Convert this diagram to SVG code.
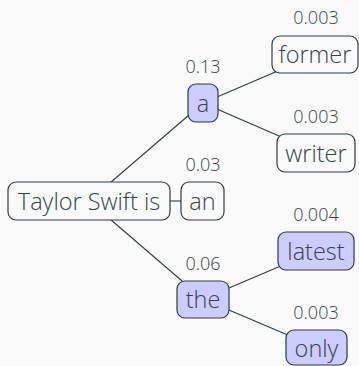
<svg xmlns="http://www.w3.org/2000/svg" width="359" height="366" viewBox="0 0 359 366">
<style>
.bg{fill:#fafafa}
.n{fill:#fafafa;stroke:#2f3b40;stroke-width:1.2}
.h{fill:#ccccff;stroke:#2f3b40;stroke-width:1.2}
.t{font-family:"Open Sans",sans-serif;font-weight:300;font-size:23.5px;fill:#36444a;text-anchor:middle}
.p{font-family:"Open Sans",sans-serif;font-weight:300;font-size:18px;fill:#36444a;text-anchor:middle}
.e{stroke:#2f3b40;stroke-width:1.1;fill:none}
</style>
<rect class="bg" x="0" y="0" width="359" height="366"/>
<g id="edges">
<line class="e" x1="89" y1="201" x2="203" y2="103"/>
<line class="e" x1="170" y1="201" x2="181" y2="201"/>
<line class="e" x1="89" y1="201" x2="203" y2="299"/>
<line class="e" x1="203" y1="103" x2="315" y2="55"/>
<line class="e" x1="203" y1="103" x2="316" y2="152"/>
<line class="e" x1="203" y1="299" x2="316" y2="251"/>
<line class="e" x1="203" y1="299" x2="316" y2="347"/>
</g>
<g id="root">
<rect class="n" x="8" y="182" width="162" height="38" rx="8"/>
<text class="t" x="89" y="210">Taylor Swift is</text>
</g>
<g id="a">
<rect class="h" x="188" y="84" width="30" height="38" rx="8"/>
<text class="t" x="203" y="112">a</text>
<text class="p" x="203" y="73">0.13</text>
</g>
<g id="an">
<rect class="n" x="181" y="182" width="43" height="38" rx="8"/>
<text class="t" x="202.5" y="210">an</text>
<text class="p" x="203" y="171">0.03</text>
</g>
<g id="the">
<rect class="h" x="177" y="281" width="52" height="37" rx="8"/>
<text class="t" x="203" y="308">the</text>
<text class="p" x="203" y="270">0.06</text>
</g>
<g id="former">
<rect class="n" x="272" y="36" width="86" height="37" rx="8"/>
<text class="t" x="315" y="63">former</text>
<text class="p" x="316" y="24">0.003</text>
</g>
<g id="writer">
<rect class="n" x="277" y="134" width="78" height="38" rx="8"/>
<text class="t" x="316" y="162">writer</text>
<text class="p" x="316" y="123">0.003</text>
</g>
<g id="latest">
<rect class="h" x="278" y="232" width="76" height="38" rx="8"/>
<text class="t" x="316" y="260">latest</text>
<text class="p" x="316" y="221">0.004</text>
</g>
<g id="only">
<rect class="h" x="286" y="330" width="61" height="35" rx="8"/>
<text class="t" x="316.5" y="357">only</text>
<text class="p" x="316" y="319">0.003</text>
</g>
</svg>
